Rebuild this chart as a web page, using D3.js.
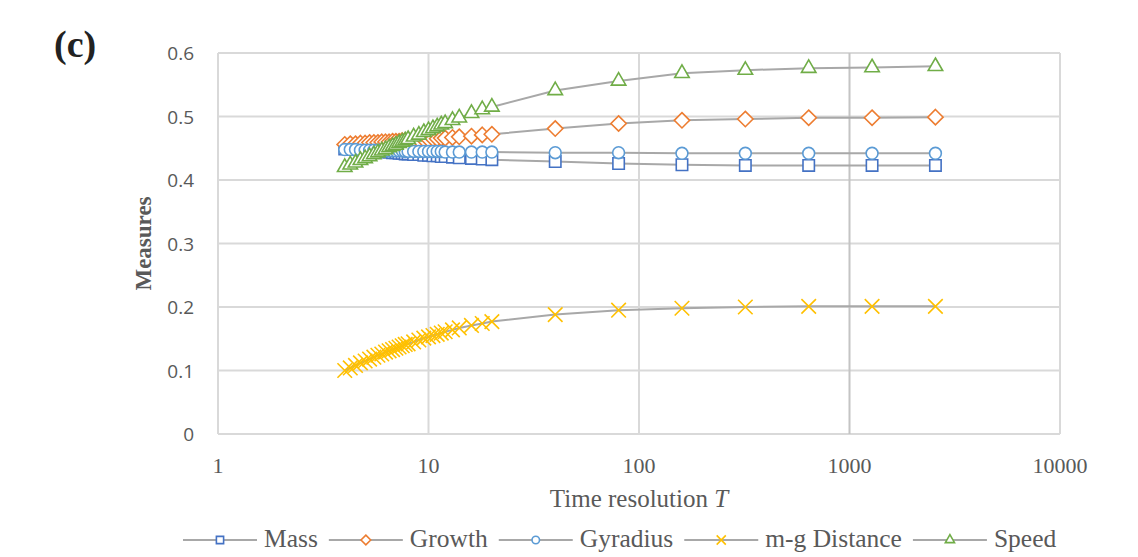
<!DOCTYPE html>
<html>
<head>
<meta charset="utf-8">
<script src="https://cdn.jsdelivr.net/npm/d3@7"></script>
<style>
  body { margin: 0; background: #fff; }
</style>
</head>
<body>
<script>
// time resolution values (x)
const T = [4, 4.25, 4.5, 4.75, 5, 5.25, 5.5, 5.75, 6, 6.25, 6.5, 6.75, 7, 7.25, 7.5, 7.75, 8,
           8.5, 9, 9.5, 10, 10.5, 11, 11.5, 12, 13, 14, 16, 18, 20,
           40, 80, 160, 320, 640, 1280, 2560];

// measures per series
const mass     = [0.449, 0.448, 0.448, 0.447, 0.447, 0.446, 0.446, 0.445, 0.445, 0.444, 0.444, 0.443, 0.443, 0.442, 0.442, 0.441, 0.441,
                  0.440, 0.440, 0.439, 0.439, 0.438, 0.438, 0.437, 0.437, 0.436, 0.435, 0.434, 0.433, 0.432,
                  0.429, 0.426, 0.424, 0.423, 0.423, 0.423, 0.423];
const growth   = [0.456, 0.457, 0.457, 0.458, 0.458, 0.459, 0.459, 0.459, 0.460, 0.460, 0.460, 0.461, 0.461, 0.461, 0.462, 0.462, 0.462,
                  0.463, 0.463, 0.464, 0.464, 0.465, 0.465, 0.466, 0.466, 0.467, 0.468, 0.469, 0.471, 0.472,
                  0.481, 0.489, 0.494, 0.496, 0.498, 0.498, 0.499];
const gyradius = [0.448, 0.448, 0.448, 0.447, 0.447, 0.447, 0.447, 0.447, 0.446, 0.446, 0.446, 0.446, 0.446, 0.446, 0.446, 0.445, 0.445,
                  0.445, 0.445, 0.445, 0.445, 0.445, 0.445, 0.445, 0.444, 0.444, 0.444, 0.444, 0.444, 0.444,
                  0.443, 0.443, 0.442, 0.442, 0.442, 0.442, 0.442];
const mgDist   = [0.100, 0.104, 0.108, 0.112, 0.115, 0.118, 0.121, 0.124, 0.126, 0.129, 0.131, 0.133, 0.135, 0.137, 0.139, 0.141, 0.142,
                  0.145, 0.148, 0.151, 0.153, 0.155, 0.157, 0.159, 0.161, 0.164, 0.167, 0.171, 0.174, 0.177,
                  0.188, 0.195, 0.198, 0.200, 0.201, 0.201, 0.201];
const speed    = [0.420, 0.424, 0.427, 0.431, 0.434, 0.437, 0.440, 0.443, 0.446, 0.448, 0.451, 0.453, 0.455, 0.458, 0.460, 0.462, 0.464,
                  0.468, 0.471, 0.475, 0.478, 0.481, 0.484, 0.487, 0.489, 0.494, 0.498, 0.505, 0.511, 0.515,
                  0.541, 0.556, 0.568, 0.573, 0.576, 0.577, 0.579];

const seriesNames = ['Mass', 'Growth', 'Gyradius', 'm-g Distance', 'Speed'];
const seriesValues = [mass, growth, gyradius, mgDist, speed];

const xTicks = [1, 10, 100, 1000, 10000];
const yTicks = [0, 0.1, 0.2, 0.3, 0.4, 0.5, 0.6];

const colors = ['#4472C4', '#ED7D31', '#5B9BD5', '#FFC000', '#70AD47'];
const shapes = [d3.symbolSquare, d3.symbolDiamond2, d3.symbolCircle, d3.symbolX, d3.symbolTriangle2];
const sizes  = [130, 150, 110, 140, 150];

const svgWidth = 1138, svgHeight = 557;
const plot = {left: 218, right: 1060, top: 53, bottom: 434};

const serif = "'Liberation Serif', 'DejaVu Serif', serif";
const sans = "'Open Sans', 'Liberation Sans', sans-serif";

const svg = d3.select('body').append('svg')
    .attr('width', svgWidth)
    .attr('height', svgHeight);

const x = d3.scaleLog().domain([1, 10000]).range([plot.left, plot.right]);
const y = d3.scaleLinear().domain([0, 0.6]).range([plot.bottom, plot.top]);

// grid
svg.append('g')
    .selectAll('line')
    .data(yTicks)
    .join('line')
    .attr('x1', plot.left).attr('x2', plot.right)
    .attr('y1', d => y(d)).attr('y2', d => y(d))
    .attr('stroke', '#d9d9d9')
    .attr('stroke-width', 2);

svg.append('g')
    .selectAll('line')
    .data(xTicks)
    .join('line')
    .attr('x1', d => x(d)).attr('x2', d => x(d))
    .attr('y1', plot.top).attr('y2', plot.bottom)
    .attr('stroke', d => d == 1000 ? '#c4c4c4' : '#d9d9d9')
    .attr('stroke-width', 2);

// tick labels
svg.append('g')
    .selectAll('text')
    .data(yTicks)
    .join('text')
    .attr('x', plot.left - 24)
    .attr('y', d => y(d) + 7)
    .attr('text-anchor', 'end')
    .attr('font-family', sans)
    .attr('font-size', 19)
    .attr('fill', '#595959')
    .text(d => d3.format('')(d));

svg.append('g')
    .selectAll('text')
    .data(xTicks)
    .join('text')
    .attr('x', d => x(d))
    .attr('y', 473)
    .attr('text-anchor', 'middle')
    .attr('font-family', serif)
    .attr('font-size', 22)
    .attr('fill', '#595959')
    .text(d => d);

// axis titles
svg.append('text')
    .attr('transform', `translate(151, ${(plot.top + plot.bottom) / 2}) rotate(-90)`)
    .attr('text-anchor', 'middle')
    .attr('font-family', serif)
    .attr('font-weight', 'bold')
    .attr('font-size', 23)
    .attr('fill', '#595959')
    .text('Measures');

const xTitle = svg.append('text')
    .attr('x', (plot.left + plot.right) / 2)
    .attr('y', 507)
    .attr('text-anchor', 'middle')
    .attr('font-family', serif)
    .attr('font-size', 25)
    .attr('fill', '#595959');
xTitle.append('tspan').text('Time resolution ');
xTitle.append('tspan').attr('font-style', 'italic').text('T');

svg.append('text')
    .attr('x', 54)
    .attr('y', 57)
    .attr('font-family', serif)
    .attr('font-weight', 'bold')
    .attr('font-size', 38)
    .attr('fill', '#222')
    .text('(c)');

// series
const line = d3.line()
    .x(d => x(d[0]))
    .y(d => y(d[1]));

seriesValues.forEach((vals, i) => {
    const pts = T.map((t, j) => [t, vals[j]]);
    const g = svg.append('g');
    g.append('path')
        .datum(pts)
        .attr('d', line)
        .attr('fill', 'none')
        .attr('stroke', '#a8a8a8')
        .attr('stroke-width', 2);
    g.selectAll('path.m')
        .data(pts)
        .join('path')
        .attr('class', 'm')
        .attr('transform', d => `translate(${x(d[0])}, ${y(d[1])})`)
        .attr('d', d3.symbol(shapes[i], sizes[i]))
        .attr('fill', '#fff')
        .attr('stroke', colors[i])
        .attr('stroke-width', 1.6);
});

// legend
const legend = svg.append('g');
let lx = 183;
const ly = 540;
seriesNames.forEach((name, i) => {
    legend.append('line')
        .attr('x1', lx).attr('x2', lx + 74)
        .attr('y1', ly).attr('y2', ly)
        .attr('stroke', '#a8a8a8')
        .attr('stroke-width', 2);
    legend.append('path')
        .attr('transform', `translate(${lx + 37}, ${ly})`)
        .attr('d', d3.symbol(shapes[i], sizes[i] * 0.4))
        .attr('fill', '#fff')
        .attr('stroke', colors[i])
        .attr('stroke-width', 1.6);
    const t = legend.append('text')
        .attr('x', lx + 81)
        .attr('y', ly + 7)
        .attr('font-family', serif)
        .attr('font-size', 25.5)
        .attr('fill', '#595959')
        .text(name);
    lx += 81 + t.node().getComputedTextLength() + 11;
});
</script>
</body>
</html>
